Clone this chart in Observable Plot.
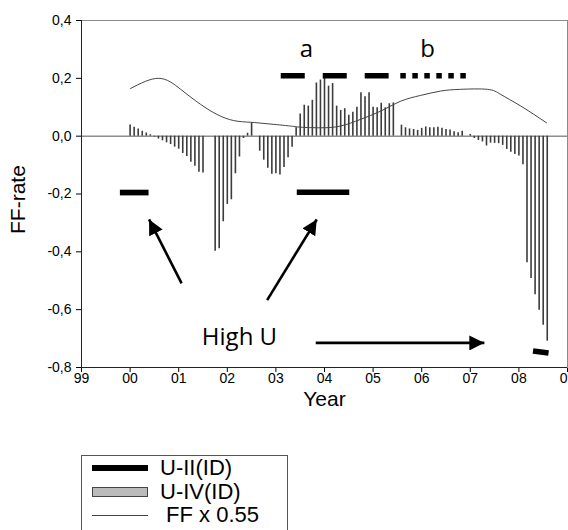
<!DOCTYPE html>
<html>
<head>
<meta charset="utf-8">
<script src="https://cdn.jsdelivr.net/npm/d3@7"></script>
<script src="https://cdn.jsdelivr.net/npm/@observablehq/plot@0.6"></script>
<style>
  html, body { margin: 0; padding: 0; background: #fff; }
  #wrap { position: relative; width: 568px; height: 530px; overflow: hidden; background: #fff; }
  #legend { position: absolute; left: 81px; top: 455px; width: 207px; height: 100px; box-sizing: border-box;
            border: 1px solid #555; background: #fff; font-family: "Liberation Sans", Arial, sans-serif; font-size: 22px; color: #000; }
  #legend .row { position: absolute; left: 0; height: 24px; line-height: 24px; white-space: pre; }
  #legend .row svg { position: absolute; left: 10px; top: 0; }
  #legend .row span { position: absolute; left: 78px; top: 0; }
</style>
</head>
<body>
<div id="wrap">
  <div id="chart"></div>
  <div id="legend"></div>
</div>
<script>
// ---------- data ----------
const yearTicks = [1999, 2000, 2001, 2002, 2003, 2004, 2005, 2006, 2007, 2008, 2009];
const yearLabels = ["99", "00", "01", "02", "03", "04", "05", "06", "07", "08", "09"];
const yTicks = [-0.8, -0.6, -0.4, -0.2, 0, 0.2, 0.4];
const yTickLabels = ["-0,8", "-0,6", "-0,4", "-0,2", "0,0", "0,2", "0,4"];

// U-IV(ID): monthly values from Jan 2000 (null = no bar)
const uivStartYear = 2000;
const uivValues = [
  0.039, 0.031, 0.025, 0.017, 0.011, 0.005, -0.003, -0.010, -0.016, -0.023, -0.029, -0.038,
  -0.045, -0.060, -0.070, -0.090, -0.104, -0.125, -0.127, null, null, -0.398, -0.389, -0.296,
  -0.236, -0.220, -0.130, -0.072, -0.008, 0.010, 0.046, null, -0.052, -0.083, -0.111, -0.132,
  -0.130, -0.134, -0.108, -0.075, -0.038, 0.029, 0.077, 0.107, 0.104, 0.124, 0.184, 0.194,
  0.200, 0.173, 0.182, 0.104, 0.089, 0.095, 0.072, 0.083, 0.100, 0.150, 0.136, 0.150,
  0.100, 0.098, 0.114, 0.098, 0.112, 0.115, null, 0.038, 0.029, 0.025, 0.023, 0.020,
  0.027, 0.032, 0.029, 0.029, 0.031, 0.027, 0.023, 0.021, 0.015, 0.012, 0.017, null,
  0.006, -0.008, -0.015, -0.020, -0.034, -0.024, -0.025, -0.026, -0.032, -0.046, -0.056, -0.063,
  -0.069, -0.099, -0.438, -0.492, -0.548, -0.602, -0.654, -0.709
];

// FF x 0.55 smooth line
const ffYears  = [2000.01, 2000.59, 2001.04, 2001.45, 2001.79, 2002.13, 2002.48, 2002.82, 2003.30, 2003.51, 2003.92,
                  2004.33, 2004.74, 2005.16, 2005.57, 2005.98, 2006.39, 2006.80, 2007.35, 2007.63, 2008.04, 2008.57];
const ffValues = [0.165, 0.200, 0.162, 0.110, 0.075, 0.054, 0.048, 0.043, 0.035, 0.031, 0.029,
                  0.035, 0.058, 0.087, 0.121, 0.141, 0.156, 0.162, 0.162, 0.144, 0.104, 0.046];

// U-II(ID) periods
const uiiSolidStart = [1999.80, 2003.44];
const uiiSolidEnd   = [2000.39, 2004.52];
const uiiSolidValue = [-0.195, -0.194];
const uiiDashStart = [2003.11], uiiDashEnd = [2005.33], uiiDashValue = [0.209];
const uiiDotStart  = [2005.57], uiiDotEnd  = [2006.92], uiiDotValue  = [0.209];
const uiiSlantStart = [2008.29], uiiSlantEnd = [2008.61], uiiSlantV1 = [-0.743], uiiSlantV2 = [-0.750];

// annotations
const arrowX1 = [2001.06, 2002.82, 2003.82];
const arrowY1 = [-0.509, -0.567, -0.715];
const arrowX2 = [2000.39, 2003.84, 2007.29];
const arrowY2 = [-0.288, -0.288, -0.715];
const labelText = ["a", "b"];
const labelX = [2003.63, 2006.12];
const labelY = [0.273, 0.273];
const noteText = ["High U"];
const noteX = [2002.25];
const noteY = [-0.723];

// ---------- build tables ----------
const bars = uivValues.map((v, i) => ({t: uivStartYear + i / 12, v})).filter(d => d.v != null);
const ff = ffYears.map((t, i) => ({t, v: ffValues[i]}));
const solid = uiiSolidStart.map((s, i) => ({s, e: uiiSolidEnd[i], v: uiiSolidValue[i]}));
const dash = uiiDashStart.map((s, i) => ({s, e: uiiDashEnd[i], v: uiiDashValue[i]}));
const dots = uiiDotStart.map((s, i) => ({s, e: uiiDotEnd[i], v: uiiDotValue[i]}));
const slant = uiiSlantStart.map((s, i) => ({x1: s, x2: uiiSlantEnd[i], y1: uiiSlantV1[i], y2: uiiSlantV2[i]}));
const arrows = arrowX1.map((x1, i) => ({x1, y1: arrowY1[i], x2: arrowX2[i], y2: arrowY2[i]}));
const labels = labelText.map((s, i) => ({s, x: labelX[i], y: labelY[i]}));
const notes = noteText.map((s, i) => ({s, x: noteX[i], y: noteY[i]}));

const H = 440;
const plot = Plot.plot({
  width: 568,
  height: H,
  marginLeft: 81,
  marginRight: 1,
  marginTop: 20,
  marginBottom: H - 367,
  style: {fontFamily: "'Liberation Sans', Arial, sans-serif", fontSize: "14px", color: "#000", background: "#fff", overflow: "visible"},
  x: {domain: [1999, 2009], ticks: yearTicks, tickFormat: d => yearLabels[yearTicks.indexOf(d)], tickSize: 5, tickPadding: 1, label: null},
  y: {domain: [-0.8, 0.4], ticks: yTicks, tickFormat: d => yTickLabels[yTicks.findIndex(t => Math.abs(t - d) < 1e-9)], tickSize: 5, tickPadding: 5, label: null},
  marks: [
    Plot.frame({stroke: "#8a8a8a", strokeWidth: 1}),
    Plot.ruleY([0], {stroke: "#555", strokeWidth: 1}),
    Plot.ruleX(bars, {x: "t", y1: 0, y2: "v", stroke: "#3c3c3c", strokeWidth: 1.6}),
    Plot.line(ff, {x: "t", y: "v", curve: "natural", stroke: "#444", strokeWidth: 1}),
    Plot.ruleY(solid, {y: "v", x1: "s", x2: "e", stroke: "#000", strokeWidth: 5.7}),
    Plot.ruleY(dash, {y: "v", x1: "s", x2: "e", stroke: "#000", strokeWidth: 5.7, strokeDasharray: "24,18"}),
    Plot.ruleY(dots, {y: "v", x1: "s", x2: "e", stroke: "#000", strokeWidth: 5.7, strokeDasharray: "5.5,6.5"}),
    Plot.link(slant, {x1: "x1", y1: "y1", x2: "x2", y2: "y2", stroke: "#000", strokeWidth: 5.5}),
    Plot.link(arrows, {x1: "x1", y1: "y1", x2: "x2", y2: "y2", stroke: "#000", strokeWidth: 2.6, markerEnd: "arrow"}),
    Plot.text(labels, {x: "x", y: "y", text: "s", fontFamily: "'Open Sans', sans-serif", fontSize: 24, lineAnchor: "bottom", fill: "#000"}),
    Plot.text(notes, {x: "x", y: "y", text: "s", fontFamily: "'Open Sans', sans-serif", fontSize: 24, lineAnchor: "bottom", fill: "#000"}),
    Plot.ruleX([1999], {stroke: "#222", strokeWidth: 1}),
    Plot.ruleY([-0.8], {stroke: "#222", strokeWidth: 1}),
    Plot.text(["Year"], {frameAnchor: "bottom", dy: 38, fontSize: 21, fill: "#000"}),
    Plot.text(["FF-rate"], {frameAnchor: "left", dx: -63, dy: 40, rotate: -90, fontSize: 21, fill: "#000"})
  ]
});

// filled arrow heads
d3.select(plot).selectAll("marker")
  .attr("viewBox", "-10 -5 10 10")
  .attr("markerWidth", 5.8)
  .attr("markerHeight", 5.8)
  .attr("fill", "#000")
  .attr("stroke", "none")
  .select("path").attr("d", "M-10,-5L0,0L-10,5Z");

document.getElementById("chart").appendChild(plot);

// ---------- legend ----------
const legendNames = ["U-II(ID)", "U-IV(ID)", " FF x 0.55"];
const legendTops = [0, 24, 47];
const legend = d3.select("#legend");
legendNames.forEach((name, i) => {
  const row = legend.append("div").attr("class", "row").style("top", (legendTops[i]) + "px");
  const svg = row.append("svg").attr("width", 60).attr("height", 24);
  if (i === 0) svg.append("rect").attr("x", 0).attr("y", 9).attr("width", 56).attr("height", 6).attr("fill", "#000");
  if (i === 1) svg.append("rect").attr("x", 0.5).attr("y", 7.5).attr("width", 55).attr("height", 9).attr("fill", "#bbb").attr("stroke", "#444");
  if (i === 2) svg.append("line").attr("x1", 0).attr("x2", 56).attr("y1", 12.5).attr("y2", 12.5).attr("stroke", "#444");
  row.append("span").text(name);
});
</script>
</body>
</html>
